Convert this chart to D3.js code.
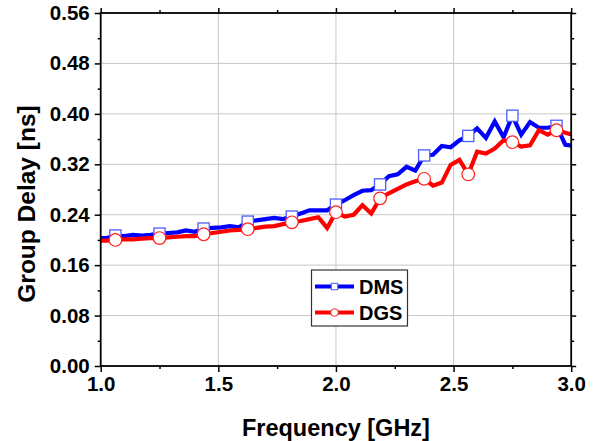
<!DOCTYPE html>
<html>
<head>
<meta charset="utf-8">
<script src="https://cdn.jsdelivr.net/npm/d3@7"></script>
<style>
  html, body { margin: 0; padding: 0; background: #fff; }
  svg { display: block; }
  text { font-family: "Liberation Sans", Arial, sans-serif; font-weight: bold; fill: #000; }
</style>
</head>
<body>
<svg id="chart" width="595" height="441"></svg>
<script>
// ---------- data ----------
const seriesNames = ["DMS", "DGS"];
const seriesColors = ["#0000ff", "#ff0000"];
// frequency sweep (GHz), 0.0375 GHz step
const freq = d3.range(55).map(k => +(0.9875 + 0.0375 * k).toFixed(4));
const dms = [0.203, 0.203, 0.207, 0.206, 0.208, 0.207, 0.208, 0.210, 0.211, 0.212,
             0.215, 0.213, 0.218, 0.219, 0.220, 0.222, 0.220, 0.229, 0.231, 0.233,
             0.235, 0.233, 0.237, 0.242, 0.247, 0.247, 0.247, 0.256, 0.263, 0.271,
             0.278, 0.279, 0.288, 0.301, 0.304, 0.316, 0.310, 0.334, 0.335, 0.349,
             0.347, 0.358, 0.365, 0.377, 0.362, 0.388, 0.363, 0.397, 0.367, 0.387,
             0.378, 0.378, 0.381, 0.351, 0.349];
const dgs = [0.199, 0.199, 0.200, 0.201, 0.201, 0.202, 0.203, 0.203, 0.204, 0.205,
             0.206, 0.206, 0.209, 0.211, 0.213, 0.215, 0.216, 0.217, 0.219, 0.221,
             0.222, 0.225, 0.228, 0.230, 0.233, 0.236, 0.219, 0.244, 0.237, 0.240,
             0.255, 0.242, 0.266, 0.274, 0.281, 0.288, 0.293, 0.297, 0.286, 0.291,
             0.319, 0.327, 0.304, 0.340, 0.337, 0.345, 0.358, 0.355, 0.348, 0.350,
             0.374, 0.367, 0.374, 0.370, 0.366];
const markerEvery = 5, markerStart = 2;
const xTicks = [1.0, 1.5, 2.0, 2.5, 3.0];
const xMinor = [1.25, 1.75, 2.25, 2.75];
const yTicks = [0.00, 0.08, 0.16, 0.24, 0.32, 0.40, 0.48, 0.56];
const yMinor = [0.04, 0.12, 0.20, 0.28, 0.36, 0.44, 0.52];
const xTitle = "Frequency [GHz]";
const yTitle = "Group Delay [ns]";

// ---------- layout ----------
const L = 100.7, R = 571.2, T = 13, B = 366;
const svg = d3.select("#chart");
const x = d3.scaleLinear().domain([1.0, 3.0]).range([L, R]);
const y = d3.scaleLinear().domain([0, 0.56]).range([B, T]);

// grid
const grid = svg.append("g");
grid.selectAll(".gx").data(xTicks.slice(1, -1)).enter().append("line")
  .attr("x1", d => x(d)).attr("x2", d => x(d)).attr("y1", T).attr("y2", B)
  .attr("stroke", "#c8c8c8").attr("stroke-width", 1);
grid.selectAll(".gy").data(yTicks.slice(1, -1)).enter().append("line")
  .attr("y1", d => y(d)).attr("y2", d => y(d)).attr("x1", L).attr("x2", R)
  .attr("stroke", "#c8c8c8").attr("stroke-width", 1);

// clip
svg.append("clipPath").attr("id", "clip").append("rect")
  .attr("x", L).attr("y", T).attr("width", R - L).attr("height", B - T);

const line = d3.line().x(d => x(d.f)).y(d => y(d.v));
const allSeries = [dms, dgs].map((vals, i) => ({
  name: seriesNames[i], color: seriesColors[i],
  pts: freq.map((f, k) => ({ f, v: vals[k], k }))
}));

const plot = svg.append("g").attr("clip-path", "url(#clip)");
allSeries.forEach((s, i) => {
  const g = plot.append("g");
  g.append("path").datum(s.pts).attr("d", line)
    .attr("fill", "none").attr("stroke", s.color).attr("stroke-width", 4.2)
    .attr("stroke-linejoin", "miter");
  const mk = s.pts.filter(p => p.k >= markerStart && (p.k - markerStart) % markerEvery === 0);
  if (i === 0) {
    g.selectAll("rect").data(mk).enter().append("rect")
      .attr("x", p => x(p.f) - 5.6).attr("y", p => y(p.v) - 5.6)
      .attr("width", 11.2).attr("height", 11.2)
      .attr("fill", "#fff").attr("stroke", "#4d5cff").attr("stroke-width", 1.3);
  } else {
    g.selectAll("circle").data(mk).enter().append("circle")
      .attr("cx", p => x(p.f)).attr("cy", p => y(p.v)).attr("r", 6.3)
      .attr("fill", "#fff").attr("stroke", "#ff2020").attr("stroke-width", 1.2);
  }
});

// axes
const ax = svg.append("g");
function axisLines(sel, axisGen, tr) {
  const g = sel.append("g").attr("transform", tr).call(axisGen);
  g.select(".domain").remove();
  g.selectAll("line").attr("stroke", "#000").attr("stroke-width", 1.5);
  return g;
}
// bottom
const gb = axisLines(ax, d3.axisBottom(x).tickValues(xTicks).tickSize(6).tickPadding(4).tickFormat(d3.format(".1f")), `translate(0,${B})`);
gb.selectAll("text").attr("font-size", 20.5).attr("font-family", "Liberation Sans, Arial, sans-serif")
  .attr("font-weight", "bold").attr("fill", "#000").attr("dy", "0.75em");
axisLines(ax, d3.axisBottom(x).tickValues(xMinor).tickSize(3).tickFormat(""), `translate(0,${B})`);
// top
axisLines(ax, d3.axisTop(x).tickValues(xTicks).tickSize(5).tickFormat(""), `translate(0,${T})`);
axisLines(ax, d3.axisTop(x).tickValues(xMinor).tickSize(3).tickFormat(""), `translate(0,${T})`);
// left
const gl = axisLines(ax, d3.axisLeft(y).tickValues(yTicks).tickSize(6).tickPadding(5).tickFormat(d3.format(".2f")), `translate(${L},0)`);
gl.selectAll("text").attr("font-size", 20.5).attr("font-family", "Liberation Sans, Arial, sans-serif")
  .attr("font-weight", "bold").attr("fill", "#000");
axisLines(ax, d3.axisLeft(y).tickValues(yMinor).tickSize(3).tickFormat(""), `translate(${L},0)`);
// right
axisLines(ax, d3.axisRight(y).tickValues(yTicks).tickSize(5).tickFormat(""), `translate(${R},0)`);
axisLines(ax, d3.axisRight(y).tickValues(yMinor).tickSize(3).tickFormat(""), `translate(${R},0)`);
// frame
svg.append("rect").attr("x", L).attr("y", T).attr("width", R - L).attr("height", B - T)
  .attr("fill", "none").attr("stroke", "#000").attr("stroke-width", 1.8);

// titles
svg.append("text").attr("x", (L + R) / 2).attr("y", 436).attr("text-anchor", "middle")
  .attr("font-size", 23.5).text(xTitle);
svg.append("text").attr("transform", `translate(35,${204}) rotate(-90)`)
  .attr("text-anchor", "middle").attr("font-size", 24.5).text(yTitle);

// legend
const lg = svg.append("g");
lg.append("rect").attr("x", 311.5).attr("y", 270).attr("width", 96).attr("height", 56)
  .attr("fill", "#fff").attr("stroke", "#333").attr("stroke-width", 1.2);
allSeries.forEach((s, i) => {
  const cy = 286.5 + i * 26;
  lg.append("line").attr("x1", 315).attr("x2", 354).attr("y1", cy).attr("y2", cy)
    .attr("stroke", s.color).attr("stroke-width", 4.2);
  if (i === 0) {
    lg.append("rect").attr("x", 334.5 - 3.2).attr("y", cy - 3.2).attr("width", 6.4).attr("height", 6.4)
      .attr("fill", "#fff").attr("stroke", "#4d5cff").attr("stroke-width", 1);
  } else {
    lg.append("circle").attr("cx", 334.5).attr("cy", cy).attr("r", 3.8)
      .attr("fill", "#fff").attr("stroke", "#ff2020").attr("stroke-width", 1);
  }
  lg.append("text").attr("x", 359).attr("y", cy).attr("dy", "0.36em")
    .attr("font-size", 20).text(s.name);
});
</script>
</body>
</html>
